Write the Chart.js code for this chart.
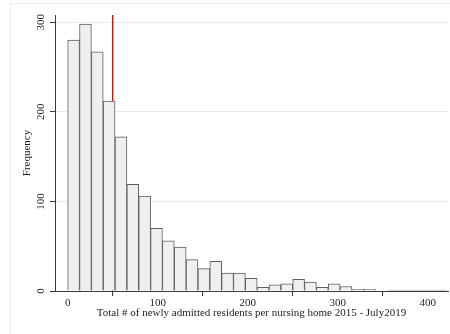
<!DOCTYPE html>
<html>
<head>
<meta charset="utf-8">
<script src="https://cdn.jsdelivr.net/npm/chart.js@4.4.0/dist/chart.umd.min.js"></script>
<style>
  html, body { margin: 0; padding: 0; background: #fff; }
</style>
</head>
<body>
<canvas id="histograma" width="450" height="334"></canvas>
<script>
// Frecuencias de cada intervalo del histograma
const frecuencias = [280, 298, 267, 212, 172, 119, 106, 70, 56, 49, 35, 25, 33, 20, 20, 14,
                     4, 7, 8, 13, 10, 4, 8, 5, 2, 2, 0, 1, 1, 1, 1, 1];
const anchoIntervalo = 13.16;   // ancho de cada intervalo
const mediana = 50;             // línea roja vertical
const ticksX = [0, 100, 200, 300, 400];
const ticksY = [0, 100, 200, 300];

// Centro de cada intervalo en el eje x
const puntos = frecuencias.map((f, i) => ({ x: i * anchoIntervalo + anchoIntervalo / 2, y: f }));

const fuente = { family: 'Liberation Serif', size: 11 };
const colorTexto = '#1e1e1e';
const colorEje = '#3a3a3a';

// Marco exterior gris muy claro
const marco = {
    id: 'marco',
    beforeDraw(chart) {
        const ctx = chart.ctx;
        ctx.save();
        ctx.fillStyle = '#ffffff';
        ctx.fillRect(0, 0, chart.width, chart.height);
        ctx.strokeStyle = '#ebebeb';
        ctx.lineWidth = 1;
        ctx.strokeRect(10.5, 3.5, 480, 360);
        ctx.restore();
    }
};

// Línea roja de la mediana, debajo de las barras
const lineaMediana = {
    id: 'lineaMediana',
    beforeDatasetsDraw(chart) {
        const { ctx, chartArea, scales } = chart;
        const x = scales.x.getPixelForValue(mediana);
        ctx.save();
        ctx.fillStyle = 'rgb(255, 0, 0)';
        ctx.fillRect(x - 0.7, chartArea.top, 1.4, scales.y.getPixelForValue(0) - chartArea.top);
        ctx.restore();
    }
};

const ctx = document.getElementById('histograma').getContext('2d');
new Chart(ctx, {
    type: 'bar',
    data: {
        datasets: [{
            data: puntos,
            backgroundColor: '#efefef',
            borderColor: '#5e5e5e',
            borderWidth: 1,
            barPercentage: 1,
            categoryPercentage: 1
        }]
    },
    options: {
        responsive: false,
        animation: false,
        devicePixelRatio: 1,
        layout: { padding: { top: 15, right: 2, left: 0, bottom: 0 } },
        plugins: {
            legend: { display: false },
            tooltip: { enabled: false }
        },
        scales: {
            x: {
                type: 'linear',
                min: -14.1,
                max: 422.6,
                offset: false,
                afterBuildTicks: s => { s.ticks = ticksX.map(v => ({ value: v })); },
                afterFit: s => { s.height = 43; },
                grid: {
                    drawOnChartArea: false,
                    drawTicks: true,
                    tickLength: 5,
                    tickColor: colorEje,
                    tickWidth: 1
                },
                border: { display: true, color: colorEje, width: 1 },
                ticks: { font: fuente, color: colorTexto, padding: 1, maxRotation: 0, autoSkip: false },
                title: {
                    display: true,
                    text: 'Total # of newly admitted residents per nursing home 2015 - July2019',
                    font: fuente,
                    color: colorTexto,
                    padding: { top: 0, bottom: 14 }
                }
            },
            y: {
                min: 0,
                max: 308,
                afterBuildTicks: s => { s.ticks = ticksY.map(v => ({ value: v })); },
                afterFit: s => { s.width = 55; },
                grid: {
                    color: c => (c.tick && c.tick.value === 0) ? 'rgba(0,0,0,0)' : '#e4ecec',
                    lineWidth: 1,
                    drawTicks: true,
                    tickLength: 5,
                    tickColor: colorEje,
                    tickWidth: 1
                },
                border: { display: true, color: colorEje, width: 1 },
                ticks: {
                    font: fuente,
                    color: colorTexto,
                    minRotation: 90,
                    maxRotation: 90,
                    crossAlign: 'center',
                    padding: 1
                },
                title: {
                    display: true,
                    text: 'Frequency',
                    font: fuente,
                    color: colorTexto,
                    padding: { top: 21, bottom: 0 }
                }
            }
        }
    },
    plugins: [marco, lineaMediana]
});
</script>
</body>
</html>
